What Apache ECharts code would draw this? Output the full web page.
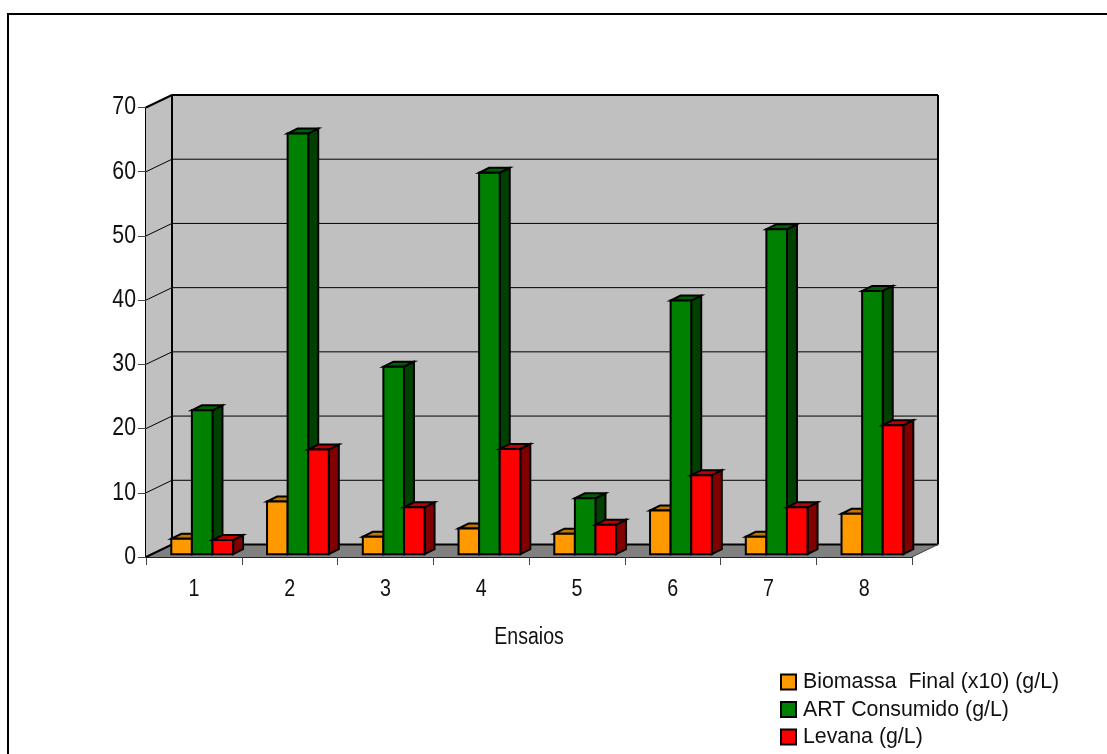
<!DOCTYPE html>
<html>
<head>
<meta charset="utf-8">
<style>html,body{margin:0;padding:0;background:#fff}#chart{width:1107px;height:754px}</style>
<script src="https://cdn.jsdelivr.net/npm/echarts@6/dist/echarts.min.js"></script>
</head>
<body>
<div id="chart"></div>
<script>
// Ensaios de producao de levana: biomassa, ART consumido e levana por ensaio
const categories = ['1', '2', '3', '4', '5', '6', '7', '8'];
const biomassa = [2.4, 8.2, 2.7, 4.0, 3.2, 6.8, 2.7, 6.3];
const artConsumido = [22.4, 65.5, 29.2, 59.4, 8.7, 39.5, 50.6, 41.0];
const levana = [2.2, 16.3, 7.3, 16.4, 4.6, 12.3, 7.3, 20.1];
const yTicks = [0, 10, 20, 30, 40, 50, 60, 70];

// Oblique projection offsets for the fake 3D box
const DEPTH = [26, -12.5];
const BAR_FRONT = [8.3, -2.8];
const BAR_DEPTH = [10, -5];
const LINE = '#000';
const TEXT = '#111';
const FONT = '"Liberation Sans", Arial, sans-serif';
// Horizontal condensing applied per font size, since no narrow face is installed
const CONDENSE = { 25: 0.85, 24: 0.82, 23: 0.85, 22: 0.97 };

function poly(points, fill, lineWidth) {
  return {
    type: 'polygon',
    shape: { points },
    style: { fill, stroke: LINE, lineWidth: lineWidth == null ? 2 : lineWidth, lineJoin: 'miter' }
  };
}
function seg(a, b, width, color) {
  return {
    type: 'line',
    shape: { x1: a[0], y1: a[1], x2: b[0], y2: b[1] },
    style: { stroke: color || LINE, lineWidth: width }
  };
}
const shift = (p, d) => [p[0] + d[0], p[1] + d[1]];

// Side wall, back wall, floor and their gridlines
function renderBox(params, api) {
  const band = api.size([1, 0])[0];
  const left = api.coord([0, 0])[0] - band / 2;
  const right = left + band * categories.length;
  const y0 = api.coord([0, 0])[1];
  const yTop = api.coord([0, yTicks[yTicks.length - 1]])[1];
  const fl = [left, y0], fr = [right, y0], tl = [left, yTop];
  const children = [
    poly([shift(fl, DEPTH), shift(fr, DEPTH), shift([right, yTop], DEPTH), shift(tl, DEPTH)], '#c0c0c0', 0),
    poly([fl, shift(fl, DEPTH), shift(tl, DEPTH), tl], '#c0c0c0', 0),
    poly([fl, fr, shift(fr, DEPTH), shift(fl, DEPTH)], '#808080', 0)
  ];
  yTicks.forEach(function (t) {
    const y = api.coord([0, t])[1];
    const a = [left, y], b = shift(a, DEPTH), c = shift([right, y], DEPTH);
    children.push(seg(a, b, t === 0 || t === 70 ? 2 : 1));
    if (t === 70) children.push(seg(b, c, 2));
    else if (t > 0) children.push(seg(b, c, 1));
  });
  // Heavier outline of the back wall; the floor front edge is the axis line
  children.push(seg(shift(fl, DEPTH), shift(tl, DEPTH), 2));
  children.push(seg(shift(fr, DEPTH), shift([right, yTop], DEPTH), 2));
  children.push(seg(shift(fl, DEPTH), shift(fr, DEPTH), 2));
  children.push(seg(fr, shift(fr, DEPTH), 1, '#444'));
  return { type: 'group', children };
}

// One extruded bar: front face plus top and side faces
function barRenderer(slot, front, top, side) {
  return function (params, api) {
    const cat = api.value(0);
    const band = api.size([1, 0])[0];
    const barW = band / 4.65;
    const c = api.coord([cat, api.value(1)]);
    const base = api.coord([cat, 0]);
    const x0 = c[0] - barW * 1.5 + slot * barW + BAR_FRONT[0];
    const x1 = x0 + barW;
    const yT = c[1] + BAR_FRONT[1];
    const yB = base[1] + BAR_FRONT[1];
    const tl = [x0, yT], tr = [x1, yT], br = [x1, yB];
    return {
      type: 'group',
      children: [
        poly([tr, shift(tr, BAR_DEPTH), shift(br, BAR_DEPTH), br], side),
        poly([tl, tr, shift(tr, BAR_DEPTH), shift(tl, BAR_DEPTH)], top),
        poly([tl, tr, br, [x0, yB]], front)
      ]
    };
  };
}

function barSeries(name, values, slot, front, top, side) {
  return {
    name,
    type: 'custom',
    z: 5,
    clip: false,
    itemStyle: { color: front, borderColor: LINE, borderWidth: 2 },
    renderItem: barRenderer(slot, front, top, side),
    encode: { x: 0, y: 1 },
    data: values.map((v, i) => [i, v])
  };
}

const chart = echarts.init(document.getElementById('chart'), null, { renderer: 'canvas' });
chart.setOption({
  animation: false,
  backgroundColor: '#fff',
  textStyle: { fontFamily: FONT },
  graphic: [{
    type: 'polyline',
    silent: true,
    shape: { points: [[8, 754], [8, 14], [1107, 14]] },
    style: { fill: 'none', stroke: '#000', lineWidth: 2 }
  }],
  grid: { left: 146, top: 107.5, width: 766, height: 449.5, containLabel: false },
  legend: {
    orient: 'vertical',
    left: 780,
    top: 671,
    padding: 0,
    itemWidth: 15,
    itemHeight: 15,
    itemGap: 5.5,
    icon: 'rect',
    selectedMode: false,
    textStyle: { fontFamily: FONT, fontSize: 22, color: TEXT, padding: [0, 0, 0, 2] },
    data: ['Biomassa  Final (x10) (g/L)', 'ART Consumido (g/L)', 'Levana (g/L)']
  },
  xAxis: {
    type: 'category',
    data: categories,
    boundaryGap: true,
    name: 'Ensaios',
    nameLocation: 'middle',
    nameGap: 69,
    nameTextStyle: { fontFamily: FONT, fontSize: 23, color: TEXT },
    axisLine: { onZero: false, lineStyle: { color: '#222', width: 2 } },
    axisTick: { show: true, alignWithLabel: false, length: 8, lineStyle: { color: '#444', width: 1 } },
    axisLabel: { fontFamily: FONT, fontSize: 24, color: TEXT, margin: 20 },
    splitLine: { show: false }
  },
  yAxis: {
    type: 'value',
    min: 0,
    max: 70,
    interval: 10,
    axisLine: { show: true, lineStyle: { color: '#000', width: 2 } },
    axisTick: { show: true, length: 8, lineStyle: { color: '#444', width: 1 } },
    axisLabel: { fontFamily: FONT, fontSize: 25, color: TEXT, margin: 10 },
    splitLine: { show: false }
  },
  series: [
    {
      type: 'custom',
      z: 1,
      silent: true,
      clip: false,
      renderItem: renderBox,
      encode: { x: 0, y: 1 },
      data: [[0, 0]]
    },
    barSeries('Biomassa  Final (x10) (g/L)', biomassa, 0, '#ff9900', '#c07600', '#7f4c00'),
    barSeries('ART Consumido (g/L)', artConsumido, 1, '#008000', '#006000', '#004000'),
    barSeries('Levana (g/L)', levana, 2, '#ff0000', '#c00000', '#800000')
  ]
});

// Condense the rendered labels about their own anchor points
const zr = chart.getZr();
zr.storage.getDisplayList(true).forEach(function (el) {
  const label = el.parent;
  if (el.type !== 'tspan' || !label || !label.style) return;
  const k = CONDENSE[label.style.fontSize];
  if (k && label.scaleX !== k) {
    label.originX = label.style.x || 0;
    label.scaleX = k;
    label.markRedraw();
  }
});
zr.refresh();
</script>
</body>
</html>
